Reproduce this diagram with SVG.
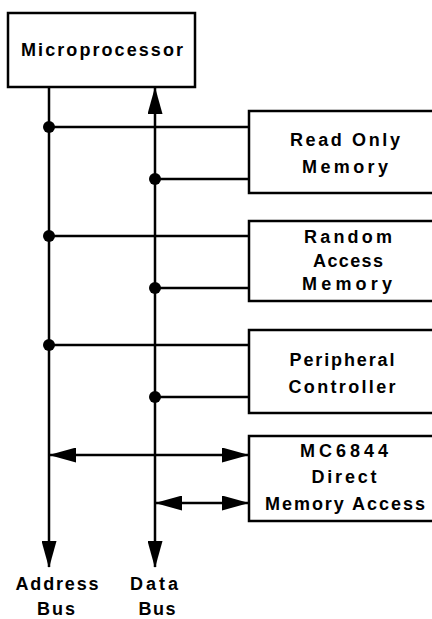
<svg xmlns="http://www.w3.org/2000/svg" width="432" height="619" viewBox="0 0 432 619">
<style>
.box{fill:#fff;stroke:#000;stroke-width:2.5}
.ln{fill:none;stroke:#000;stroke-width:2.5}
.dot{fill:#000}
text{font-family:"Liberation Sans",Arial,sans-serif;font-size:18px;font-weight:bold;fill:#000;text-anchor:middle}
</style>
<defs>
<marker id="ah" markerUnits="userSpaceOnUse" markerWidth="27" markerHeight="15" refX="26" refY="7.5" orient="auto-start-reverse" viewBox="0 0 27 15">
<path d="M0,0 L27,7.5 L0,15 z" fill="#000"/>
</marker>
</defs>
<g id="connectors">
<line class="ln" x1="49" y1="87" x2="49" y2="567" marker-end="url(#ah)"/>
<line class="ln" x1="155" y1="88" x2="155" y2="567" marker-start="url(#ah)" marker-end="url(#ah)"/>
<line class="ln" x1="49" y1="127" x2="249" y2="127"/>
<line class="ln" x1="155" y1="179" x2="249" y2="179"/>
<line class="ln" x1="49" y1="236" x2="249" y2="236"/>
<line class="ln" x1="155" y1="288" x2="249" y2="288"/>
<line class="ln" x1="49" y1="345" x2="249" y2="345"/>
<line class="ln" x1="155" y1="397" x2="249" y2="397"/>
<line class="ln" x1="50" y1="455" x2="248" y2="455" marker-start="url(#ah)" marker-end="url(#ah)"/>
<line class="ln" x1="156" y1="503" x2="248" y2="503" marker-start="url(#ah)" marker-end="url(#ah)"/>
<circle class="dot" cx="49" cy="127" r="6"/>
<circle class="dot" cx="155" cy="179" r="6"/>
<circle class="dot" cx="49" cy="236" r="6"/>
<circle class="dot" cx="155" cy="288" r="6"/>
<circle class="dot" cx="49" cy="345" r="6"/>
<circle class="dot" cx="155" cy="397" r="6"/>
</g>
<g id="microprocessor">
<rect class="box" x="8" y="13" width="187" height="74"/>
<text x="102" y="56" textLength="162" lengthAdjust="spacing">Microprocessor</text>
</g>
<g id="rom">
<rect class="box" x="249" y="111" width="200" height="82"/>
<text x="345" y="146" textLength="110" lengthAdjust="spacing">Read Only</text>
<text x="345" y="173" textLength="86" lengthAdjust="spacing">Memory</text>
</g>
<g id="ram">
<rect class="box" x="249" y="221" width="200" height="80"/>
<text x="348" y="243" textLength="88" lengthAdjust="spacing">Random</text>
<text x="348" y="267" textLength="70" lengthAdjust="spacing">Access</text>
<text x="347" y="290" textLength="90" lengthAdjust="spacing">Memory</text>
</g>
<g id="peripheral">
<rect class="box" x="249" y="330" width="200" height="83"/>
<text x="342" y="366" textLength="105" lengthAdjust="spacing">Peripheral</text>
<text x="342" y="393" textLength="107" lengthAdjust="spacing">Controller</text>
</g>
<g id="dma">
<rect class="box" x="249" y="436" width="200" height="85"/>
<text x="344" y="457" textLength="88" lengthAdjust="spacing">MC6844</text>
<text x="344" y="483" textLength="65" lengthAdjust="spacing">Direct</text>
<text x="345" y="510" textLength="160" lengthAdjust="spacing">Memory Access</text>
</g>
<g id="address-label">
<text x="57" y="590" textLength="83" lengthAdjust="spacing">Address</text>
<text x="56" y="615" textLength="38" lengthAdjust="spacing">Bus</text>
</g>
<g id="data-label">
<text x="154" y="590" textLength="48" lengthAdjust="spacing">Data</text>
<text x="157" y="615" textLength="37" lengthAdjust="spacing">Bus</text>
</g>
</svg>
